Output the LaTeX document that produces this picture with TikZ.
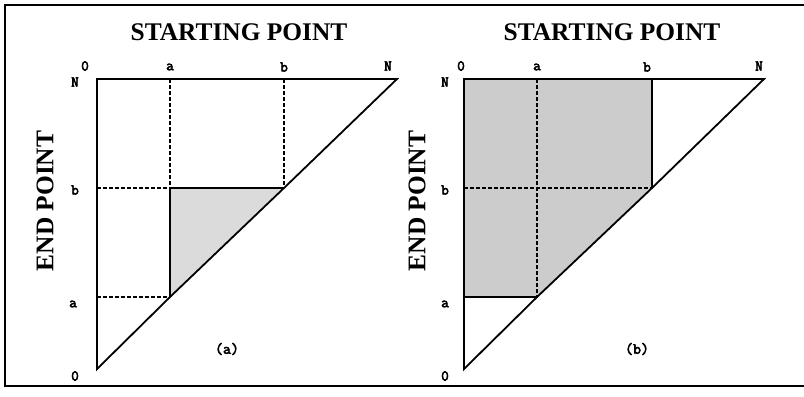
\documentclass[tikz,border=0pt]{standalone}
\usepackage{fontspec}
\setmainfont{Liberation Serif}
\newfontfamily\lblfont{Latin Modern Mono}[AutoFakeBold=3.5]
\definecolor{shadeA}{gray}{0.86}
\definecolor{shadeB}{gray}{0.80}
\tikzset{
  frame/.style={line width=1.6bp},
  solidline/.style={line width=1.8bp, line join=miter},
  dashline/.style={line width=1.3bp, dash pattern=on 3.5bp off 2.5bp},
  dashthick/.style={line width=2bp, dash pattern=on 3.5bp off 2.5bp},
  title/.style={font=\fontsize{25.5}{30}\selectfont\bfseries, inner sep=0pt},
  axlbl/.style={font=\lblfont\fontsize{15}{17}\selectfont\bfseries, inner sep=0pt},
  caplbl/.style={font=\lblfont\fontsize{15.5}{17}\selectfont\bfseries, inner sep=0pt}
}
\begin{document}
\begin{tikzpicture}[x=1bp,y=-1bp]
\useasboundingbox (0,0) rectangle (804,396);
% frame
\coordinate (f1) at (806,5);
\coordinate (f2) at (5,5);
\coordinate (f3) at (5,386);
\coordinate (f4) at (806,386);
\draw[frame] (f1) -- (f2) -- (f3) -- (f4);

% ---------------- (a) ----------------
\coordinate (aO) at (97,369);
\coordinate (aTL) at (97,79);
\coordinate (aTR) at (397,79);
\coordinate (aPa) at (170,297);
\coordinate (aPb) at (284,188);
\coordinate (aAtop) at (170,79);
\coordinate (aBtop) at (284,79);
\coordinate (aAb) at (170,188);
\coordinate (aLb) at (97,188);
\coordinate (aLa) at (97,297);
\fill[shadeA] (aAb) -- (aPb) -- (aPa) -- cycle;
\draw[dashline] (aAtop) -- (aAb);
\draw[dashline] (aBtop) -- (aPb);
\draw[dashline] (aLb) -- (aAb);
\draw[dashline] (aLa) -- (aPa);
\draw[solidline] (aPa) -- (aAb) -- (aPb);
\draw[solidline] (aO) -- (aTL) -- (aTR) -- (aPb) -- (aPa) -- cycle;
\node[title] (aTitle) at (239,32) {STARTING POINT};
\node[title, rotate=90] (aEnd) at (45,201) {END POINT};
\node[axlbl] (ax0) at (85,66) {0};
\node[axlbl] (axa) at (170,67) {a};
\node[axlbl] (axb) at (284,67) {b};
\node[axlbl] (axN) at (388,66) {N};
\node[axlbl] (ayN) at (75,82) {N};
\node[axlbl] (ayb) at (75,190) {b};
\node[axlbl] (aya) at (73,304) {a};
\node[axlbl] (ay0) at (75,376) {0};
\node[caplbl] (acap) at (227,349) {(a)};

% ---------------- (b) ----------------
\coordinate (bO) at (464,369);
\coordinate (bTL) at (464,79);
\coordinate (bTR) at (764,79);
\coordinate (bPa) at (537,297);
\coordinate (bPb) at (652,188);
\coordinate (bAtop) at (537,79);
\coordinate (bBtop) at (652,79);
\coordinate (bLb) at (464,188);
\coordinate (bLa) at (464,297);
\fill[shadeB] (bTL) -- (bBtop) -- (bPb) -- (bPa) -- (bLa) -- cycle;
\draw[dashthick] (bAtop) -- (bPa);
\draw[dashthick] (bLb) -- (bPb);
\draw[solidline] (bBtop) -- (bPb);
\draw[solidline] (bLa) -- (bPa);
\draw[solidline] (bO) -- (bTL) -- (bTR) -- (bPb) -- (bPa) -- cycle;
\node[title] (bTitle) at (612,32) {STARTING POINT};
\node[title, rotate=90] (bEnd) at (417,201) {END POINT};
\node[axlbl] (bx0) at (461,66) {0};
\node[axlbl] (bxa) at (537,67) {a};
\node[axlbl] (bxb) at (647,67) {b};
\node[axlbl] (bxN) at (759,66) {N};
\node[axlbl] (byN) at (445,82) {N};
\node[axlbl] (byb) at (445,190) {b};
\node[axlbl] (bya) at (445,304) {a};
\node[axlbl] (by0) at (445,376) {0};
\node[caplbl] (bcap) at (637,349) {(b)};
\end{tikzpicture}
\end{document}
